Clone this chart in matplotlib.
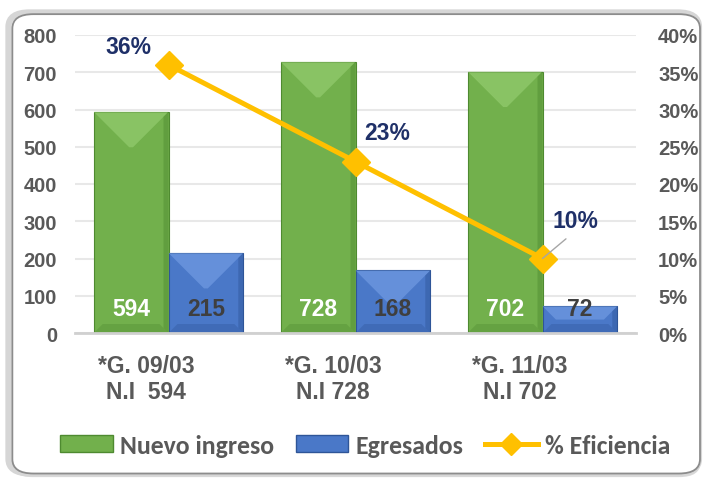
import numpy as np
import matplotlib
matplotlib.use("Agg")
import matplotlib.pyplot as plt
from matplotlib.patches import FancyBboxPatch, Polygon, Patch
from matplotlib.lines import Line2D

# Chart data
groups = ["*G. 09/03\nN.I  594", "*G. 10/03\nN.I 728", "*G. 11/03\nN.I 702"]
nuevo_ingreso = [594, 728, 702]
egresados = [215, 168, 72]
eficiencia = [0.36, 0.23, 0.10]
eficiencia_labels = ["36%", "23%", "10%"]
left_ticks = [0, 100, 200, 300, 400, 500, 600, 700, 800]
right_ticks = [0, 0.05, 0.10, 0.15, 0.20, 0.25, 0.30, 0.35, 0.40]

plt.rcParams['font.family'] = ['Liberation Sans', 'DejaVu Sans']
plt.rcParams['font.weight'] = 'bold'

GRAY = '#595959'
GREEN = '#72B04C'
GREEN_LIGHT = '#A6DC82'
GREEN_DARK = '#4E8A30'
BLUE = '#4A78C8'
BLUE_LIGHT = '#86AEF0'
BLUE_DARK = '#2E5598'
GOLD = '#FFC000'
NAVY = '#1F3068'

fig = plt.figure(figsize=(7.06, 4.81), dpi=100)
fig.patch.set_facecolor('white')

# rounded chart frame with soft shadow
shadow = FancyBboxPatch((0.016, 0.006), 0.976, 0.958, boxstyle="round,pad=0,rounding_size=0.03",
                        transform=fig.transFigure, facecolor='#DADADA', edgecolor='none', zorder=0)
outer = FancyBboxPatch((0.012, 0.014), 0.978, 0.958, boxstyle="round,pad=0,rounding_size=0.03",
                       transform=fig.transFigure, facecolor='white', edgecolor='#D6D6D6', lw=4.5, zorder=0.5)
inner = FancyBboxPatch((0.0175, 0.0135), 0.974, 0.955, boxstyle="round,pad=0,rounding_size=0.03",
                       transform=fig.transFigure, facecolor='white', edgecolor='#8C8C8C', lw=1.3, zorder=0.6)
fig.patches.extend([shadow, outer, inner])

ax = fig.add_axes([75 / 706, 1 - 334 / 481, 561 / 706, 298 / 481])
ax.set_zorder(2)
ax.patch.set_visible(False)
ax2 = ax.twinx()
ax2.set_zorder(3)
ax2.patch.set_visible(False)

x = np.arange(len(groups))
w = 0.4
ax.set_xlim(-0.5, len(groups) - 0.5)
ax.set_ylim(0, 800)
ax2.set_ylim(0, 0.40)

bars_g = ax.bar(x - w / 2, nuevo_ingreso, w, color=GREEN, edgecolor=GREEN_DARK, lw=0.8, zorder=2)
bars_b = ax.bar(x + w / 2, egresados, w, color=BLUE, edgecolor=BLUE_DARK, lw=0.8, zorder=2)

# bevel effect on bars
fig.canvas.draw()
px_x = ax.transData.transform((1, 0))[0] - ax.transData.transform((0, 0))[0]
px_y = ax.transData.transform((0, 1))[1] - ax.transData.transform((0, 0))[1]


def bevel(bars, light, dark):
    for b in bars:
        x0, y0 = b.get_x(), b.get_y()
        bw, bh = b.get_width(), b.get_height()
        d_px = min(bw * px_x / 2 * 0.95, bh * px_y / 2)
        dx, dy = d_px / px_x, d_px / px_y
        top = Polygon([(x0, y0 + bh), (x0 + bw, y0 + bh), (x0 + bw - dx, y0 + bh - dy),
                       (x0 + dx, y0 + bh - dy)], closed=True, facecolor=light,
                      edgecolor='none', alpha=0.45, zorder=2.1)
        d2 = min(9, bh * px_y / 2)
        bot = Polygon([(x0, y0), (x0 + bw, y0), (x0 + bw - d2 / px_x, y0 + d2 / px_y),
                       (x0 + d2 / px_x, y0 + d2 / px_y)], closed=True, facecolor=dark,
                      edgecolor='none', alpha=0.35, zorder=2.1)
        right = Polygon([(x0 + bw, y0), (x0 + bw, y0 + bh), (x0 + bw - 5 / px_x, y0 + bh - 5 / px_y),
                         (x0 + bw - 5 / px_x, y0 + 5 / px_y)], closed=True, facecolor=dark,
                        edgecolor='none', alpha=0.45, zorder=2.1)
        ax.add_patch(top)
        ax.add_patch(bot)
        ax.add_patch(right)


bevel(bars_g, GREEN_LIGHT, GREEN_DARK)
bevel(bars_b, BLUE_LIGHT, BLUE_DARK)

# values inside bars
for i in range(len(groups)):
    ax.text(x[i] - w / 2, 67, str(nuevo_ingreso[i]), ha='center', va='center',
            color='white', fontsize=16.5, fontweight='bold', zorder=4)
    ax.text(x[i] + w / 2, 67, str(egresados[i]), ha='center', va='center',
            color='#3F3F3F', fontsize=16.5, fontweight='bold', zorder=4)

# efficiency line
ax2.plot(x, eficiencia, color=GOLD, lw=3.6, marker='D', markersize=14, zorder=5)
offsets = [(-29, 13), (23, 21), (24, 27)]
for i, (lab, off) in enumerate(zip(eficiencia_labels, offsets)):
    kw = {}
    if i == 2:
        kw = dict(arrowprops=dict(arrowstyle='-', color='#A6A6A6', lw=1,
                                  relpos=(0.45, 0), shrinkA=4, shrinkB=0))
    ax2.annotate(lab, (x[i], eficiencia[i]), xytext=off, textcoords='offset points',
                 ha='center', va='center', color=NAVY, fontsize=16.5, fontweight='bold',
                 zorder=6, **kw)

# grid and axes styling
ax.set_yticks(left_ticks)
ax.grid(axis='y', color='#E8E8E8', lw=1.5, zorder=0)
ax.set_axisbelow(True)
for s in ['top', 'right', 'left']:
    ax.spines[s].set_visible(False)
    ax2.spines[s].set_visible(False)
ax2.spines['bottom'].set_visible(False)
ax.spines['bottom'].set_color('#D0D0D0')
ax.spines['bottom'].set_linewidth(2)

ax.tick_params(axis='y', length=0, pad=13, labelsize=14.5, labelcolor=GRAY)
ax2.set_yticks(right_ticks)
ax2.set_yticklabels([f"{int(round(v * 100))}%" for v in right_ticks])
ax2.tick_params(axis='y', length=0, pad=16, labelsize=14.5, labelcolor=GRAY)

ax.set_xticks(x - 0.12)
ax.set_xticklabels(groups, fontsize=16.5, fontweight='bold', color=GRAY, linespacing=1.15)
ax.tick_params(axis='x', length=0, pad=15)

# legend
handles = [Patch(facecolor=GREEN, edgecolor=GREEN_DARK, label='Nuevo ingreso'),
           Patch(facecolor=BLUE, edgecolor=BLUE_DARK, label='Egresados'),
           Line2D([], [], color=GOLD, lw=3.6, marker='D', markersize=11, label='% Eficiencia')]
leg = fig.legend(handles=handles, loc='center', bbox_to_anchor=(365 / 706, 1 - 446 / 481),
                 ncol=3, frameon=False, handlelength=2.05, handleheight=0.62,
                 handletextpad=0.27, columnspacing=0.85,
                 prop=dict(family=['Carlito', 'Liberation Sans'], weight='bold', size=18.5))
for t in leg.get_texts():
    t.set_color(GRAY)

fig.savefig('out.png', dpi=100, facecolor='white')
